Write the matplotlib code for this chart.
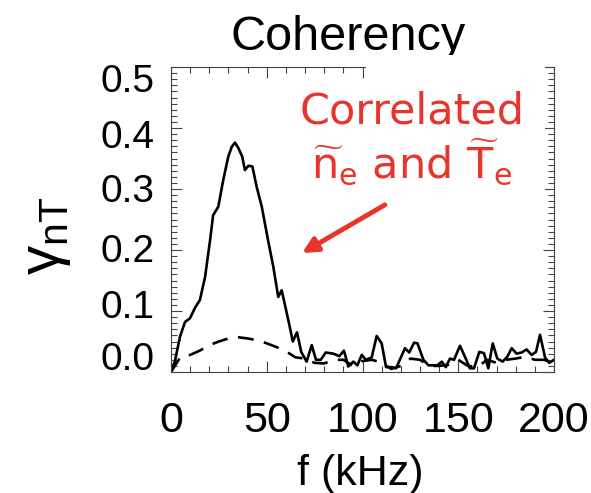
import matplotlib
matplotlib.use("Agg")
import matplotlib.pyplot as plt
import matplotlib.transforms as mtransforms
from matplotlib.patches import Rectangle

# coherency spectrum (solid) and noise level (dashed)
freq = [0, 2, 4.7, 7.3, 9.9, 12.5, 15.1, 17.8, 20.4, 22, 24.7, 27.3, 29.9, 31.7,
        33.4, 35.2, 37.2, 38.6, 40.4, 42.5, 44.7, 47.4, 50.8, 53.4, 56, 57.8,
        59.5, 61.6, 63.6, 65.8, 68, 70.8, 73.5, 75.7, 78.2, 80.8, 84.8, 87.9,
        90.3, 92.6, 95.2, 97.3, 99.6, 101.8, 104.8, 107.4, 110, 112.3, 115.2,
        117.5, 122.2, 124.4, 126.9, 128.7, 131.8, 134.4, 137, 139.1, 141.4,
        143.5, 145.7, 147.8, 150.9, 153.5, 156.1, 158.2, 161, 163.4, 165.7, 168,
        170.4, 173.2, 175.6, 177.9, 180.5, 183.1, 185.7, 188.3, 190.6, 192.7,
        195.3, 197.5, 200]
coh = [0.003, 0.017, 0.058, 0.082, 0.088, 0.105, 0.118, 0.156, 0.216, 0.257,
       0.271, 0.315, 0.353, 0.369, 0.376, 0.367, 0.353, 0.331, 0.338, 0.337,
       0.304, 0.271, 0.214, 0.173, 0.123, 0.134, 0.110, 0.080, 0.050, 0.065,
       0.033, 0.017, 0.044, 0.020, 0.020, 0.032, 0.030, 0.026, 0.035, 0.009,
       0.017, 0.011, 0.028, 0.020, 0.024, 0.059, 0.047, 0.008, 0.008, 0.006,
       0.039, 0.032, 0.048, 0.047, 0.020, 0.011, 0.011, 0.011, 0.017, 0.008,
       0.022, 0.020, 0.043, 0.025, 0.006, 0.006, 0.033, 0.031, 0.006, 0.047,
       0.022, 0.017, 0.025, 0.039, 0.030, 0.032, 0.037, 0.028, 0.033, 0.061,
       0.024, 0.015, 0.020]

freq_noise = [0, 5, 10, 15, 20, 25, 30, 35, 40, 45, 50, 55, 60, 65, 70, 75, 80,
              85, 90, 95, 100, 105, 110, 115, 120, 125, 130, 135, 140, 145, 150,
              155, 160, 165, 170, 175, 180, 185, 190, 195, 200]
noise = [0.0, 0.025, 0.028, 0.035, 0.044, 0.050, 0.055, 0.057, 0.055, 0.052,
         0.047, 0.041, 0.034, 0.024, 0.022, 0.015, 0.014, 0.020, 0.020, 0.010,
         0.018, 0.020, 0.015, 0.005, 0.010, 0.022, 0.020, 0.010, 0.010, 0.012,
         0.020, 0.010, 0.008, 0.020, 0.015, 0.020, 0.022, 0.025, 0.020, 0.020,
         0.012]

xticks = [0, 50, 100, 150, 200]
yticks = [0.0, 0.1, 0.2, 0.3, 0.4, 0.5]

plt.rcParams['mathtext.rm'] = 'Liberation Sans'

W, H = 591, 493
fig = plt.figure(figsize=(W / 100, H / 100), dpi=100)
ax = fig.add_axes([171 / W, 1 - 372 / H, (554 - 171) / W, (372 - 67) / H])

ax.plot(freq, coh, color='black', lw=1.9)
ax.plot(freq_noise, noise, color='black', lw=1.9, dashes=(6, 4))

ax.set_xlim(0, 200)
ax.set_ylim(0, 0.5)
ax.set_xticks(xticks)
ax.set_xticks(range(0, 201, 10), minor=True)
ax.set_yticks(yticks)
ax.set_yticks([i / 100 for i in range(51)], minor=True)
ax.set_xticklabels([str(v) for v in xticks], fontsize=31, family='Liberation Sans')
ax.set_yticklabels(['%.1f' % v for v in yticks], fontsize=28, family='Liberation Sans')
ax.tick_params(which='both', direction='in', top=True, right=True,
               color='#444444', width=0.8)
ax.tick_params(which='major', length=8)
ax.tick_params(which='minor', length=4)
ax.tick_params(axis='x', pad=21)
ax.tick_params(axis='y', pad=12)
for sp in ax.spines.values():
    sp.set_color('#444444')
    sp.set_linewidth(0.8)

# y labels sit a little squeezed toward the middle
shift = [11.5, 5, 1.5, 0.7, -4.3, -8]
for lab, dy in zip(ax.get_yticklabels(), shift):
    lab.set_transform(lab.get_transform() +
                      mtransforms.ScaledTranslation(0, dy / 72, fig.dpi_scale_trans))

fig.text(348 / W, 1 - 50 / H, 'Coherency', fontsize=35, family='Liberation Sans',
         ha='center', va='baseline')
fig.text(360 / W, 1 - 485 / H, 'f (kHz)', fontsize=31, family='Liberation Sans',
         ha='center', va='baseline')
fig.text(46 / W, 1 - 236 / H, r'$\mathrm{\gamma}_{\mathrm{nT}}$', fontsize=42,
         family='Liberation Sans', math_fontfamily='custom', rotation=90,
         ha='center', va='center')

# white panel behind the annotation
fig.patches.append(Rectangle((366 / W, 1 - 195 / H), (545 - 366) / W, 140 / H,
                             transform=fig.transFigure, facecolor='white',
                             edgecolor='none', zorder=5))

red = '#e8352b'
fig.text(412 / W, 1 - 123 / H, 'Correlated', fontsize=31, color=red,
         ha='center', va='baseline', zorder=6)
fig.text(412 / W, 1 - 178 / H,
         r'$\widetilde{\mathrm{n}}_{\mathrm{e}}$ and $\widetilde{\mathrm{T}}_{\mathrm{e}}$',
         fontsize=31, color=red, math_fontfamily='dejavusans',
         ha='center', va='baseline', zorder=6)
ax.annotate('', xy=(68.4, 0.195), xytext=(111.7, 0.274),
            arrowprops=dict(arrowstyle='-|>,head_length=0.9,head_width=0.45',
                            color=red, lw=3.5, shrinkA=0, shrinkB=0))

fig.savefig('out.png', dpi=100)
